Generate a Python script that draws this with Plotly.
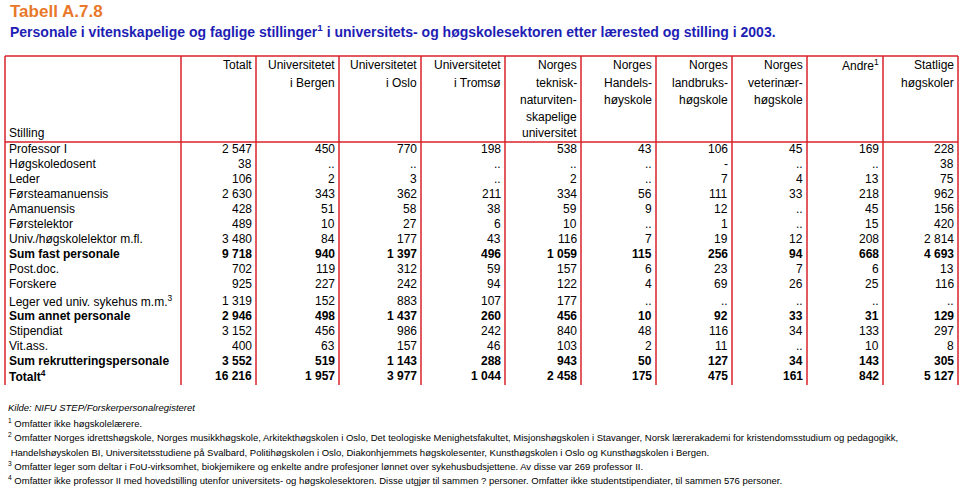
import plotly.graph_objects as go

# Table values (None = "..", 0 = "-")
stilling = ["Professor I", "Høgskoledosent", "Leder", "Førsteamanuensis", "Amanuensis",
            "Førstelektor", "Univ./høgskolelektor m.fl.", "Sum fast personale",
            "Post.doc.", "Forskere", "Leger ved univ. sykehus m.m.<sup>3</sup>",
            "Sum annet personale", "Stipendiat", "Vit.ass.",
            "Sum rekrutteringspersonale", "Totalt<sup>4</sup>"]
bold_rows = [7, 11, 14, 15]

headers = [
    ["Totalt"],
    ["Universitetet", "i Bergen"],
    ["Universitetet", "i Oslo"],
    ["Universitetet", "i Tromsø"],
    ["Norges", "teknisk-", "naturviten-", "skapelige", "universitet"],
    ["Norges", "Handels-", "høyskole"],
    ["Norges", "landbruks-", "høgskole"],
    ["Norges", "veterinær-", "høgskole"],
    ["Andre<sup>1</sup>"],
    ["Statlige", "høgskoler"],
]

totalt = [2547, 38, 106, 2630, 428, 489, 3480, 9718, 702, 925, 1319, 2946, 3152, 400, 3552, 16216]
uib = [450, None, 2, 343, 51, 10, 84, 940, 119, 227, 152, 498, 456, 63, 519, 1957]
uio = [770, None, 3, 362, 58, 27, 177, 1397, 312, 242, 883, 1437, 986, 157, 1143, 3977]
uit = [198, None, None, 211, 38, 6, 43, 496, 59, 94, 107, 260, 242, 46, 288, 1044]
ntnu = [538, None, 2, 334, 59, 10, 116, 1059, 157, 122, 177, 456, 840, 103, 943, 2458]
nhh = [43, None, None, 56, 9, None, 7, 115, 6, 4, None, 10, 48, 2, 50, 175]
nlh = [106, 0, 7, 111, 12, 1, 19, 256, 23, 69, None, 92, 116, 11, 127, 475]
nvh = [45, None, 4, 33, None, None, 12, 94, 7, 26, None, 33, 34, None, 34, 161]
andre = [169, None, 13, 218, 45, 15, 208, 668, 6, 25, None, 31, 133, 10, 143, 842]
statlige = [228, 38, 75, 962, 156, 420, 2814, 4693, 13, 116, None, 129, 297, 8, 305, 5127]
columns = [totalt, uib, uio, uit, ntnu, nhh, nlh, nvh, andre, statlige]

footnotes = [
    "<i>Kilde: NIFU STEP/Forskerpersonalregisteret</i>",
    "<sup>1</sup> Omfatter ikke høgskolelærere.",
    "<sup>2</sup> Omfatter Norges idrettshøgskole, Norges musikkhøgskole, Arkitekthøgskolen i Oslo, Det teologiske Menighetsfakultet, Misjonshøgskolen i Stavanger, Norsk lærerakademi for kristendomsstudium og pedagogikk,",
    " Handelshøyskolen BI, Universitetsstudiene på Svalbard, Politihøgskolen i Oslo, Diakonhjemmets høgskolesenter, Kunsthøgskolen i Oslo og Kunsthøgskolen i Bergen.",
    "<sup>3</sup> Omfatter leger som deltar i FoU-virksomhet, biokjemikere og enkelte andre profesjoner lønnet over sykehusbudsjettene. Av disse var 269 professor II.",
    "<sup>4</sup> Omfatter ikke professor II med hovedstilling utenfor universitets- og høgskolesektoren. Disse utgjør til sammen ? personer. Omfatter ikke studentstipendiater, til sammen 576 personer.",
]


def fmt(v):
    if v is None:
        return ".."
    if v == 0:
        return "-"
    return f"{v:,}".replace(",", " ")


FONT = "Liberation Sans, Arial, sans-serif"
RED = "#d9232a"
seps = [5, 181, 256, 339, 421, 505, 581, 656, 732, 807, 883, 958]
top, head_bot, bottom = 56, 142, 385

fig = go.Figure()
fig.add_trace(go.Scatter(x=[0, 960], y=[0, 488], mode="markers",
                         marker=dict(opacity=0), hoverinfo="skip", showlegend=False))

ann = []
# titles
ann.append(dict(x=8, y=11, text="<b>Tabell A.7.8</b>", xanchor="left", yanchor="middle",
                font=dict(size=17, color="#e8782a", family=FONT)))
ann.append(dict(x=8, y=31, text="<b>Personale i vitenskapelige og faglige stillinger<sup>1</sup> i universitets- og høgskolesektoren etter lærested og stilling i 2003.</b>",
                xanchor="left", yanchor="middle", font=dict(size=14, color="#1e1eb4", family=FONT)))

# header
ann.append(dict(x=7, y=133, text="Stilling", xanchor="left", yanchor="middle",
                font=dict(size=12, color="black", family=FONT)))
head_y = [65, 83, 100, 117, 133]
for j, lines in enumerate(headers):
    for k, line in enumerate(lines):
        ann.append(dict(x=seps[j + 2] - 2, y=head_y[k], text=line, xanchor="right", yanchor="middle",
                        font=dict(size=12, color="black", family=FONT)))

# body
for i, name in enumerate(stilling):
    y = 149 + 15 * i + (2 if i >= 10 else 0)
    b = i in bold_rows
    ann.append(dict(x=7, y=y, text=f"<b>{name}</b>" if b else name, xanchor="left", yanchor="middle",
                    font=dict(size=12, color="black", family=FONT)))
    for j, col in enumerate(columns):
        t = fmt(col[i])
        ann.append(dict(x=seps[j + 2] - 2, y=y, text=f"<b>{t}</b>" if b else t,
                        xanchor="right", yanchor="middle",
                        font=dict(size=12, color="black", family=FONT)))

# footnotes
foot_y = [407, 423, 437, 452, 466, 480]
for t, y in zip(footnotes, foot_y):
    ann.append(dict(x=6, y=y, text=t, xanchor="left", yanchor="middle",
                    font=dict(size=9.5, color="black", family=FONT)))

for a in ann:
    a.update(xref="x", yref="y", showarrow=False)

shapes = []
line = dict(color=RED, width=1.5)
shapes.append(dict(type="line", x0=seps[0], x1=seps[-1], y0=top, y1=top, line=line))
shapes.append(dict(type="line", x0=seps[0], x1=seps[-1], y0=head_bot, y1=head_bot, line=line))
for sx in seps:
    shapes.append(dict(type="line", x0=sx, x1=sx, y0=top, y1=bottom, line=line))
for s in shapes:
    s.update(xref="x", yref="y")

fig.update_layout(
    width=960, height=488,
    margin=dict(l=0, r=0, t=0, b=0),
    paper_bgcolor="white", plot_bgcolor="white",
    xaxis=dict(range=[0, 960], visible=False, fixedrange=True),
    yaxis=dict(range=[488, 0], visible=False, fixedrange=True),
    annotations=ann, shapes=shapes,
)
# drop the page's default body margin so the 960x488 figure fills the window
fig.write_html("out.html", config={"displayModeBar": False},
               post_script="document.body.style.margin='0';document.body.style.overflow='hidden';")
